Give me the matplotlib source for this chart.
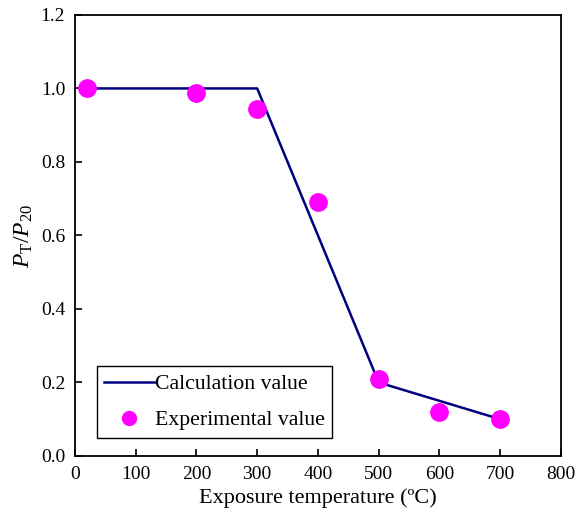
import matplotlib
matplotlib.use('Agg')
import matplotlib.pyplot as plt

plt.rcParams['font.family'] = ['Liberation Serif', 'DejaVu Serif']
plt.rcParams['mathtext.fontset'] = 'custom'
plt.rcParams['mathtext.rm'] = 'Liberation Serif'
plt.rcParams['mathtext.it'] = 'Liberation Serif:italic'

# calculation curve
calc_t = [20, 300, 500, 700]
calc_v = [1.0, 1.0, 0.2, 0.1]

# experimental points
exp_t = [20, 200, 300, 400, 500, 600, 700]
exp_v = [1.0, 0.988, 0.945, 0.69, 0.21, 0.12, 0.10]

fig = plt.figure(figsize=(5.76, 5.15), dpi=100)
ax = fig.add_axes([0.130, 0.1146, 0.844, 0.8564])

ax.plot(calc_t, calc_v, color='#000080', lw=1.8, label='Calculation value')
ax.plot(exp_t, exp_v, 'o', color='#ff00ff', ms=12.5, label='Experimental value')

ax.set_xlim(0, 800)
ax.set_ylim(0, 1.2)
ax.set_xticks(range(0, 801, 100))
ax.set_yticks([0.0, 0.2, 0.4, 0.6, 0.8, 1.0, 1.2])
ax.set_yticklabels(['0.0', '0.2', '0.4', '0.6', '0.8', '1.0', '1.2'])
ax.tick_params(direction='in', labelsize=14, width=1.2, length=5, pad=7)
for s in ax.spines.values():
    s.set_linewidth(1.3)

ax.set_xlabel('Exposure temperature (ºC)', fontsize=16, labelpad=4)
ax.set_ylabel(r'$P_{\mathrm{T}}/P_{20}$', fontsize=17, labelpad=4)

leg = ax.legend(loc='lower left', bbox_to_anchor=(0.045, 0.041), borderaxespad=0,
                fontsize=15.7, fancybox=False, framealpha=1, edgecolor='black',
                handlelength=2.3, handletextpad=0.0, borderpad=0.35, labelspacing=0.72,
                markerscale=0.8)
leg.get_frame().set_linewidth(1.0)

fig.savefig('out.png', dpi=100)
